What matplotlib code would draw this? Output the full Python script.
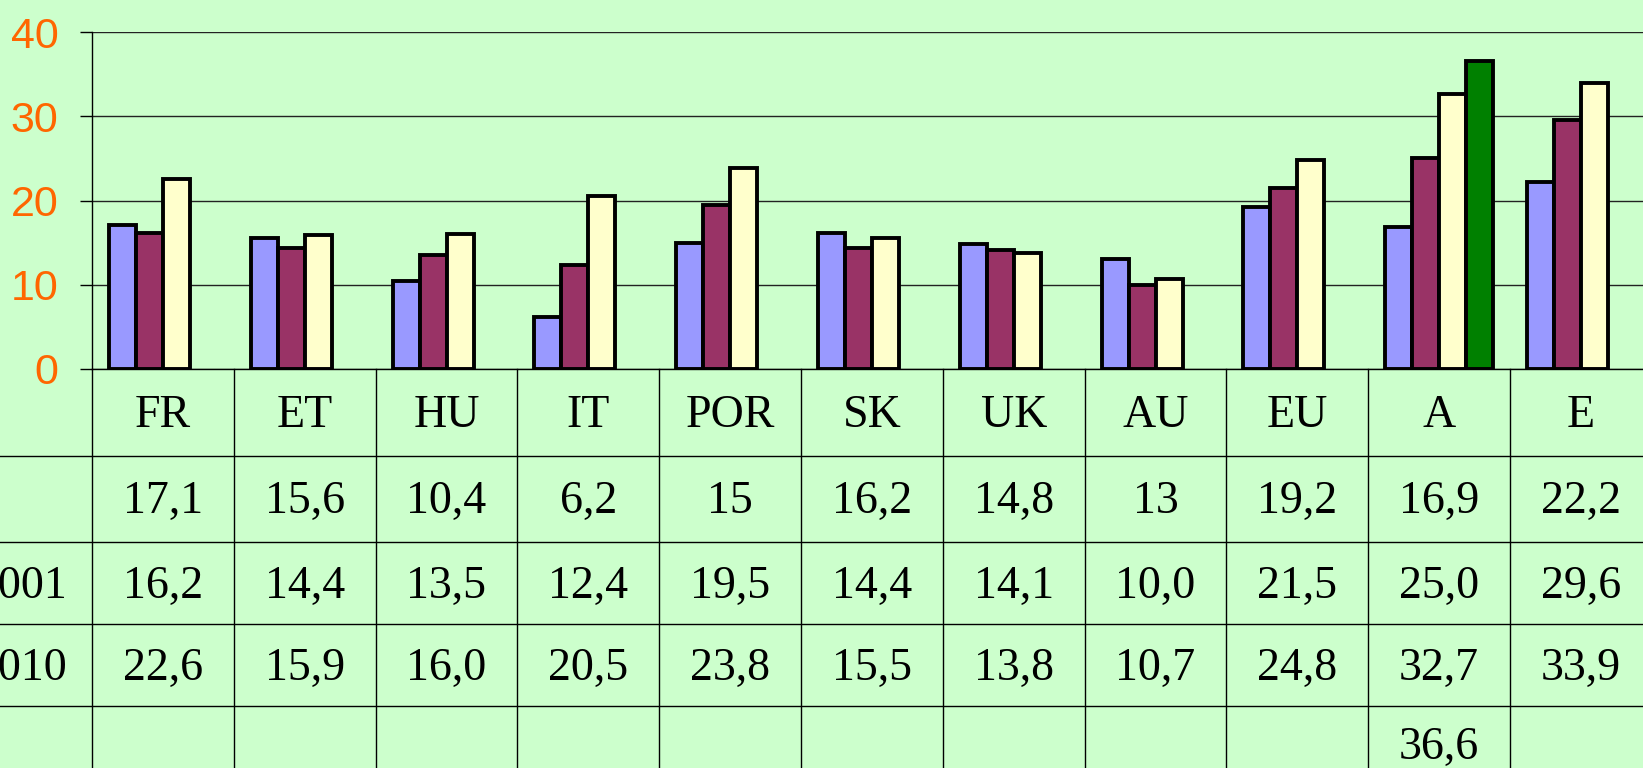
import numpy as np
import matplotlib
matplotlib.use("Agg")
import matplotlib.pyplot as plt

# data
categories = ["FR", "ET", "HU", "IT", "POR", "SK", "UK", "AU", "EU", "A", "E"]
row_labels = ["", "2001", "2010", ""]
s1 = [17.1, 15.6, 10.4, 6.2, 15, 16.2, 14.8, 13, 19.2, 16.9, 22.2]
s2 = [16.2, 14.4, 13.5, 12.4, 19.5, 14.4, 14.1, 10.0, 21.5, 25.0, 29.6]
s3 = [22.6, 15.9, 16.0, 20.5, 23.8, 15.5, 13.8, 10.7, 24.8, 32.7, 33.9]
s4 = [np.nan] * 9 + [36.6, np.nan]
series = [s1, s2, s3, s4]
colors = ["#9999FF", "#993366", "#FFFFCC", "#008000"]
yticks = [0, 10, 20, 30, 40]

bg = "#CCFFCC"
W, H = 1643, 768
x0, y_axis, y_top = 92, 369, 32      # pixel positions
col_w = 141.8

fig = plt.figure(figsize=(W / 100, H / 100), dpi=100, facecolor=bg)

# ---- chart
ax = fig.add_axes([x0 / W, 1 - y_axis / H, 11 * col_w / W, (y_axis - y_top) / H])
ax.set_facecolor(bg)
x = np.arange(len(categories))
bw = 27 / col_w
for i, (vals, c) in enumerate(zip(series, colors)):
    ax.bar(x + (i - 1.5) * bw, vals, bw, color=c, edgecolor="black",
           linewidth=2.8, zorder=3)
ax.set_xlim(-0.5, len(categories) - 0.5)
ax.set_ylim(0, 40)
ax.set_yticks(yticks)
ax.set_xticks([])
ax.grid(axis="y", color="#222222", linewidth=1.0, zorder=0)
for s in ("top", "right"):
    ax.spines[s].set_visible(False)
ax.spines["left"].set_linewidth(1.0)
ax.spines["bottom"].set_linewidth(1.0)
ax.tick_params(axis="y", direction="out", length=8.6, width=1.0, pad=15.5,
               labelsize=31, labelcolor="#FF6600")
for lab in ax.get_yticklabels():
    lab.set_fontfamily("Liberation Sans")

# ---- data table under the chart
tab_h = H - y_axis
tax = fig.add_axes([x0 / W, 0, 11 * col_w / W, tab_h / H])
tax.set_xlim(-0.5, len(categories) - 0.5)
tax.set_ylim(tab_h, 0)
tax.axis("off")
bounds = [0, 86.7, 173.3, 255.3, 337.3, 419.3]
left_x = -0.5 - x0 / col_w
for b in bounds[1:-1]:
    tax.plot([left_x, len(categories) - 0.5], [b, b], color="black",
             linewidth=1.0, clip_on=False)
for k in range(len(categories) + 1):
    tax.plot([k - 0.5, k - 0.5], [0, bounds[-1]], color="black",
             linewidth=1.0, clip_on=False)

tfont = dict(family="Liberation Serif", size=33, ha="center",
             va="center_baseline", color="black")
mid = [(bounds[i] + bounds[i + 1]) / 2 - 2 for i in range(len(bounds) - 1)]
mid[-1] -= 3   # last row is cut by the bottom edge; keep its text inside
for j, cat in enumerate(categories):
    tax.text(j, mid[0], cat, **tfont)
for r, vals in enumerate(series):
    for j, v in enumerate(vals):
        if np.isnan(v):
            continue
        txt = f"{v:g}" if r == 0 else f"{v:.1f}"
        tax.text(j, mid[r + 1], txt.replace(".", ","), **tfont)
# row labels sit partly outside the left edge, as in the source
for r, lab in enumerate(row_labels):
    tax.text(-0.5 - 25 / col_w, mid[r + 1], lab, clip_on=False,
             **{**tfont, "ha": "right"})

fig.savefig("out.png", dpi=100, facecolor=bg)
